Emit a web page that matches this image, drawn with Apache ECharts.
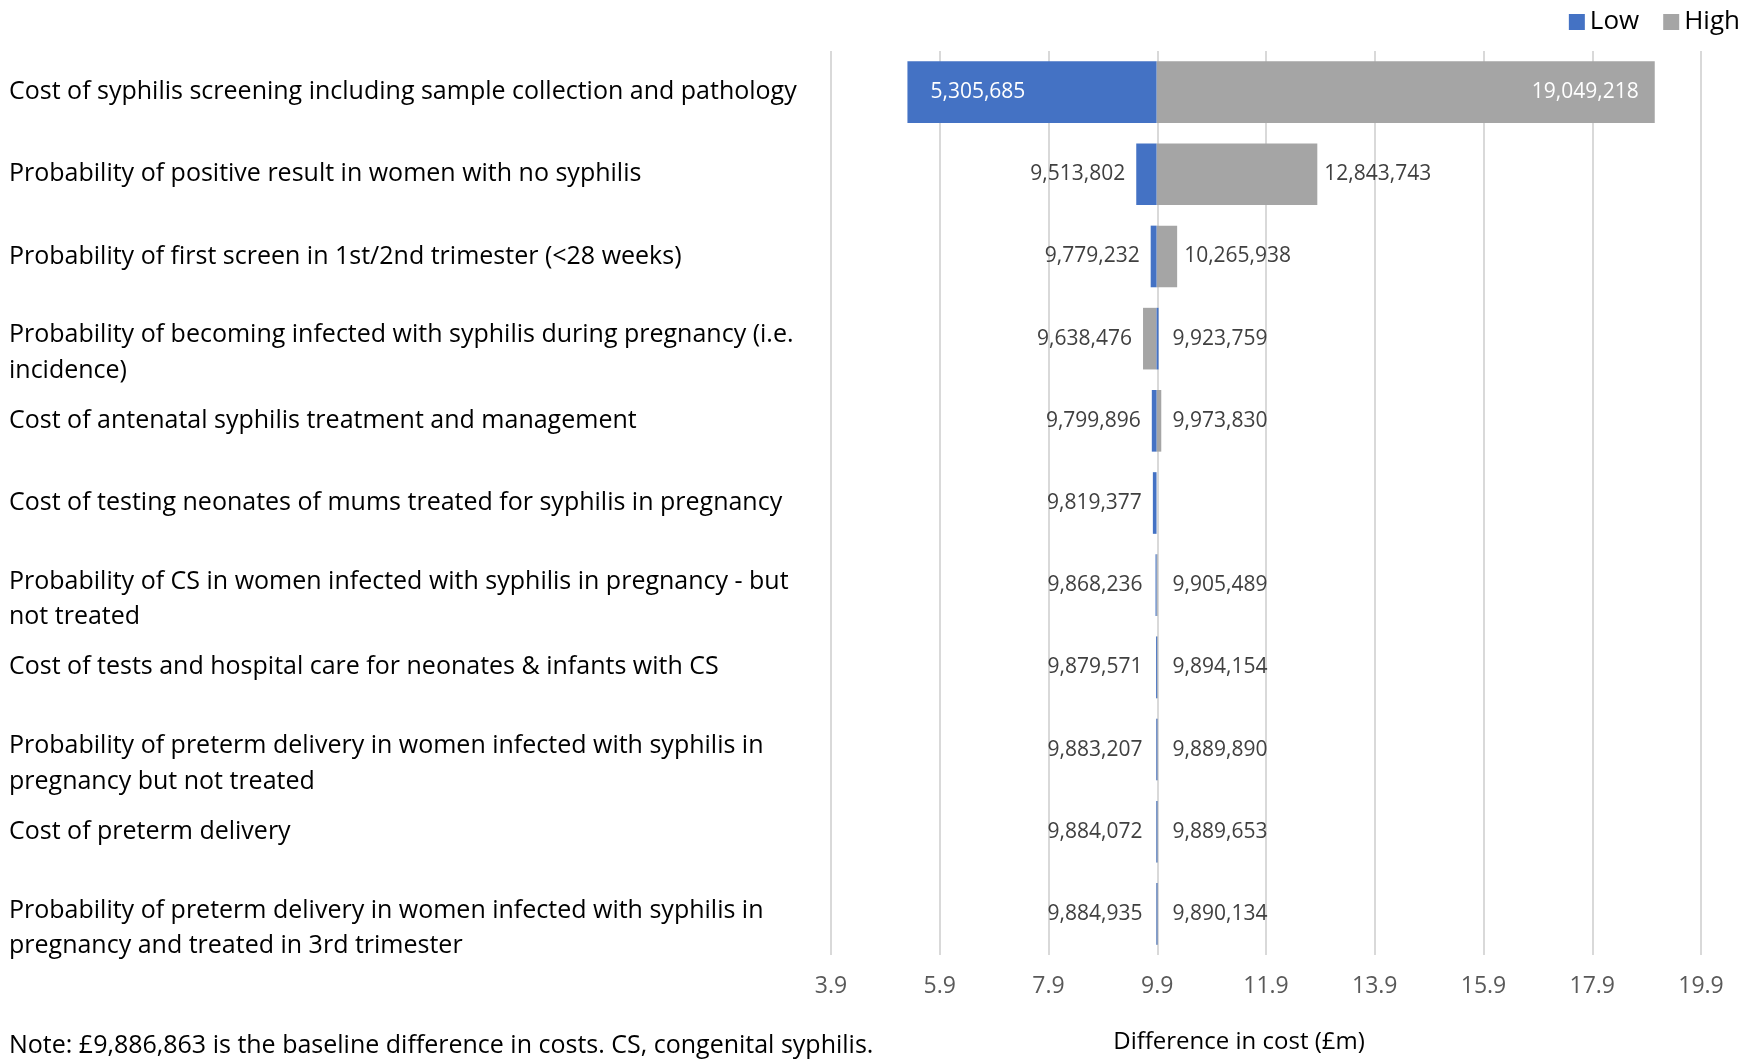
<!DOCTYPE html>
<html>
<head>
<meta charset="utf-8">
<script src="https://cdn.jsdelivr.net/npm/echarts@6/dist/echarts.min.js"></script>
<style>
  html, body { margin: 0; padding: 0; background: #fff; }
  #chart { width: 1742px; height: 1060px; }
</style>
</head>
<body>
<div id="chart"></div>
<script>
// Parameters of the one-way sensitivity analysis (top to bottom)
const categories = [
  'Cost of syphilis screening including sample collection and pathology',
  'Probability of positive result in women with no syphilis',
  'Probability of first screen in 1st/2nd trimester (<28 weeks)',
  'Probability of becoming infected with syphilis during pregnancy (i.e.\nincidence)',
  'Cost of antenatal syphilis treatment and management',
  'Cost of testing neonates of mums treated for syphilis in pregnancy',
  'Probability of CS in women infected with syphilis in pregnancy - but\nnot treated',
  'Cost of tests and hospital care for neonates & infants with CS',
  'Probability of preterm delivery in women infected with syphilis in\npregnancy but not treated',
  'Cost of preterm delivery',
  'Probability of preterm delivery in women infected with syphilis in\npregnancy and treated in 3rd trimester'
];

// Difference in cost (£) at the low and high value of each parameter
const lowValues = [
  5305685, 9513802, 9779232, 9923759, 9799896, 9819377,
  9868236, 9879571, 9883207, 9884072, 9884935
];
const highValues = [
  19049218, 12843743, 10265938, 9638476, 9973830, null,
  9905489, 9894154, 9889890, 9889653, 9890134
];

const baseline = 9886863;
const tickLabels = ['3.9', '5.9', '7.9', '9.9', '11.9', '13.9', '15.9', '17.9', '19.9'];

const axisMin = parseFloat(tickLabels[0]);
const axisMax = parseFloat(tickLabels[tickLabels.length - 1]);
const axisStep = parseFloat(tickLabels[1]) - axisMin;

const FONT = '"Open Sans", "Noto Sans", sans-serif';
const fmt = v => v.toLocaleString('en-GB');

// Each bar runs from the baseline to the parameter's result
function makeRenderer(color) {
  return function (params, api) {
    const v = api.value(0);
    const row = api.value(1);
    if (v == null || isNaN(v)) return;
    const pBase = api.coord([baseline / 1e6, row]);
    const pEnd = api.coord([v / 1e6, row]);
    const h = api.size([0, 1])[1] * 0.75;
    const x0 = Math.min(pBase[0], pEnd[0]);
    const w = Math.max(Math.abs(pEnd[0] - pBase[0]), 1);
    const rect = echarts.graphic.clipRectByRect(
      { x: x0, y: pBase[1] - h / 2, width: w, height: h },
      { x: params.coordSys.x, y: params.coordSys.y, width: params.coordSys.width, height: params.coordSys.height }
    );
    const goesLeft = v < baseline;
    const wide = Math.abs(pEnd[0] - pBase[0]) > 200;
    let tx, align, fill;
    if (wide) {
      // long bars carry their value inside the far end
      tx = goesLeft ? pEnd[0] + 23 : pEnd[0] - 16;
      align = goesLeft ? 'left' : 'right';
      fill = '#ffffff';
    } else {
      tx = goesLeft ? Math.min(pEnd[0] - 11, pBase[0] - 14) : Math.max(pEnd[0] + 7, pBase[0] + 16);
      align = goesLeft ? 'right' : 'left';
      fill = '#404040';
    }
    return {
      type: 'group',
      children: [
        { type: 'rect', shape: rect, style: { fill: color } },
        {
          type: 'text',
          x: tx, y: pBase[1],
          style: {
            text: fmt(v), fill: fill, align: align, verticalAlign: 'middle',
            font: '21px ' + FONT
          }
        }
      ]
    };
  };
}

// Two-line parameter names: first line sits level with the bar, second below it
function categoryLabel(value) {
  const parts = value.split('\n');
  if (parts.length < 2) return '{one|' + value + '}';
  return '{top|' + parts[0] + '}\n{bot|' + parts[1] + '}';
}

const labelFont = { fontFamily: FONT, fontSize: 25, color: '#000' };

const chart = echarts.init(document.getElementById('chart'), null, { renderer: 'canvas' });

chart.setOption({
  animation: false,
  backgroundColor: '#ffffff',
  grid: {
    left: 831, right: 41, top: 51, bottom: 105,
    containLabel: false, outerBoundsMode: 'none'
  },
  legend: {
    right: -3, top: 4,
    itemWidth: 16, itemHeight: 16, itemGap: 24,
    icon: 'rect',
    textStyle: { fontFamily: FONT, fontSize: 26, color: '#000', padding: [0, 0, 0, 0] },
    data: ['Low', 'High']
  },
  xAxis: {
    type: 'value',
    min: axisMin, max: axisMax, interval: axisStep,
    name: 'Difference in cost (£m)',
    nameLocation: 'middle',
    nameGap: 75,
    nameTextStyle: { fontFamily: FONT, fontSize: 24, color: '#000', padding: [0, 54, 0, 0] },
    axisLine: { show: false },
    axisTick: { show: false },
    splitLine: { show: true, lineStyle: { color: '#d9d9d9', width: 2 } },
    axisLabel: {
      margin: 20,
      fontFamily: FONT, fontSize: 23, color: '#595959',
      formatter: v => v.toFixed(1)
    }
  },
  yAxis: {
    type: 'category',
    inverse: true,
    data: categories,
    axisLine: { show: false },
    axisTick: { show: false },
    splitLine: { show: false },
    axisLabel: {
      align: 'left',
      margin: 822,
      formatter: categoryLabel,
      rich: {
        one: Object.assign({ lineHeight: 35 }, labelFont),
        top: Object.assign({ lineHeight: 64 }, labelFont),
        bot: Object.assign({ lineHeight: 7 }, labelFont)
      }
    }
  },
  series: [
    {
      name: 'Low', type: 'custom', z: 3,
      itemStyle: { color: '#4472c4' },
      renderItem: makeRenderer('#4472c4'),
      encode: { x: 0, y: 1 },
      data: lowValues.map((v, i) => [v, i])
    },
    {
      name: 'High', type: 'custom', z: 2,
      itemStyle: { color: '#a5a5a5' },
      renderItem: makeRenderer('#a5a5a5'),
      encode: { x: 0, y: 1 },
      data: highValues.map((v, i) => [v == null ? NaN : v, i])
    }
  ],
  graphic: [
    {
      type: 'text', left: 9, top: 1033,
      style: {
        text: 'Note: £9,886,863 is the baseline difference in costs. CS, congenital syphilis.',
        font: '25px ' + FONT, fill: '#000'
      }
    }
  ]
});
</script>
</body>
</html>
